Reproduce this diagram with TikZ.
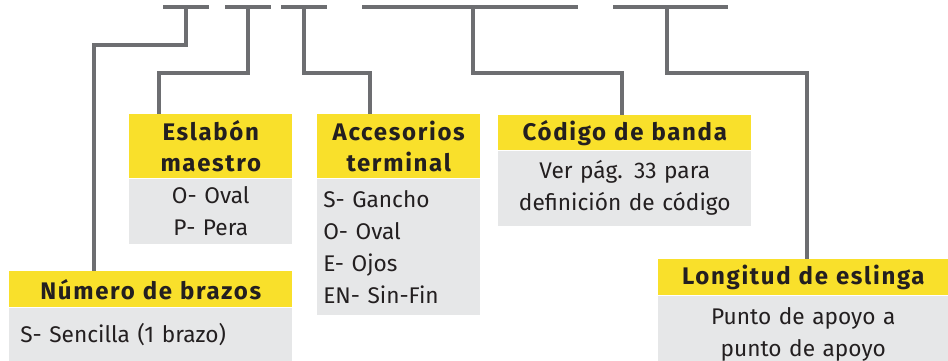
\documentclass[tikz,border=0pt]{standalone}
\usepackage{fontspec}
\setmainfont{Fira Sans}
\usetikzlibrary{positioning}
\definecolor{barra}{HTML}{6D6E71}
\definecolor{amarillo}{HTML}{F9E02B}
\definecolor{grisclaro}{HTML}{E6E7E8}
\definecolor{texto}{HTML}{231F20}
\tikzset{
    guia/.style={
        draw=barra,
        line width=3.3pt
    },
    titulo/.style={
        fill=amarillo,
        text=texto,
        font=\addfontfeature{LetterSpace=7}\bfseries\fontsize{18}{23}\selectfont,
        inner sep=0pt,
        align=center,
        anchor=north west
    },
    cuerpo/.style={
        fill=grisclaro,
        text=texto,
        font=\fontsize{17}{24}\selectfont,
        inner sep=0pt,
        anchor=north west
    }
}

\begin{document}
\begin{tikzpicture}[
    x=0.75pt,
    y=-0.75pt
]
    \useasboundingbox (0,0) rectangle (948,360);

    % Barras superiores
    \coordinate (b1i) at (163,7);  \coordinate (b1d) at (209,7);
    \coordinate (b2i) at (225,7);  \coordinate (b2d) at (271,7);
    \coordinate (b3i) at (281,7);  \coordinate (b3d) at (327,7);
    \coordinate (b4i) at (362,7);  \coordinate (b4d) at (578,7);
    \coordinate (b5i) at (613,7);  \coordinate (b5d) at (728,7);
    \coordinate (s1) at (186,7);
    \coordinate (s2) at (248,7);
    \coordinate (s3) at (304,7);
    \coordinate (s4) at (473,7);
    \coordinate (s5) at (667,7);

    % Eslabón maestro
    \node[titulo, text width=122.25pt, minimum height=48pt]
        (eslT) at (129,114) {Eslabón\\maestro};
    \node[cuerpo, text width=122.25pt, minimum height=48.75pt, align=center]
        (eslC) at (eslT.south west) {O- Oval\\P- Pera};

    % Accesorios terminal
    \node[titulo, text width=122.25pt, minimum height=48pt]
        (accT) at (317,114) {Accesorios\\terminal};
    \node[cuerpo, text width=113.25pt, minimum height=102pt, align=left,
          inner xsep=4.5pt]
        (accC) at (accT.south west)
        {S- Gancho\\O- Oval\\E- Ojos\\EN- Sin-Fin};

    % Código de banda
    \node[titulo, text width=189.75pt, minimum height=26.25pt]
        (codT) at (498,115) {Código de banda};
    \node[cuerpo, text width=189.75pt, minimum height=56.25pt, align=center]
        (codC) at (codT.south west)
        {Ver pág. 33 para\\definición de código};

    % Número de brazos
    \node[titulo, text width=212.25pt, minimum height=27pt]
        (nbrT) at (9,271) {Número de brazos};
    \node[cuerpo, text width=195.75pt, minimum height=39.75pt, align=left,
          inner xsep=8.25pt]
        (nbrC) at (nbrT.south west) {S- Sencilla (1 brazo)};

    % Longitud de eslinga
    \node[titulo, text width=217.5pt, minimum height=27pt]
        (lonT) at (658,259) {Longitud de eslinga};
    \node[cuerpo, text width=217.5pt, minimum height=58pt, align=center]
        (lonC) at (lonT.south west)
        {Punto de apoyo a\\punto de apoyo};

    % Guías
    \draw[guia] (b1i) -- (b1d);
    \draw[guia] (b2i) -- (b2d);
    \draw[guia] (b3i) -- (b3d);
    \draw[guia] (b4i) -- (b4d);
    \draw[guia] (b5i) -- (b5d);

    \draw[guia] (s1) |- (94,45)  -- (94,0 |- nbrT.north);
    \draw[guia] (s2) |- (159,73) -- (159,0 |- eslT.north);
    \draw[guia] (s3) |- (370,73) -- (370,0 |- accT.north);
    \draw[guia] (s4) |- (622,73) -- (622,0 |- codT.north);
    \draw[guia] (s5) |- (807,73) -- (807,0 |- lonT.north);

\end{tikzpicture}
\end{document}
